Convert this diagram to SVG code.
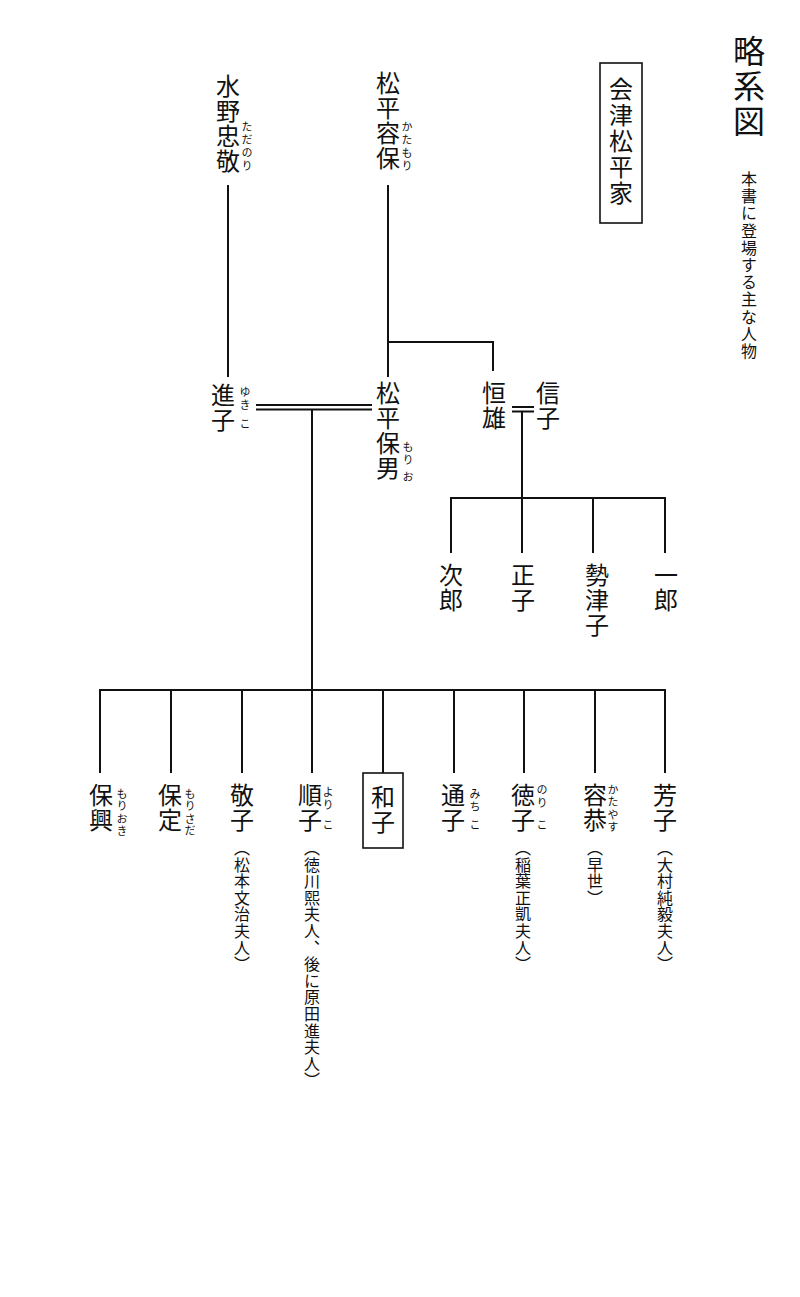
<svg xmlns="http://www.w3.org/2000/svg" width="800" height="1297" viewBox="0 0 800 1297">
<style>
text{font-family:"Noto Sans CJK JP","Noto Sans CJK SC",sans-serif;fill:#111;writing-mode:vertical-rl;text-orientation:upright}
.n{font-size:24px;letter-spacing:1px}
.f{font-size:11px;letter-spacing:2px}
.p{font-size:16px}
.t{font-size:32px;letter-spacing:3px}
.s{font-size:16px;letter-spacing:1.2px}
.ln{fill:none;stroke:#111;stroke-width:2}
.box{fill:none;stroke:#111;stroke-width:1.6}
</style>
<rect width="800" height="1297" fill="#fff"/>
<g id="title"><text class="t" x="749" y="35">略系図</text></g>
<g id="subtitle"><text class="s" x="749" y="171">本書に登場する主な人物</text></g>
<g id="house"><rect class="box" x="600" y="63" width="42" height="160"/><text class="n" x="621" y="77" style="letter-spacing:2px">会津松平家</text></g>
<g id="connectors">
<path class="ln" d="M228 185V377"/>
<path class="ln" d="M388 185V377M388 342H493V371"/>
<path class="ln" d="M256 405H372M256 409.5H372"/>
<path class="ln" d="M312 409.5V690"/>
<path class="ln" d="M512 407H534M512 411.5H534"/>
<path class="ln" d="M522 411.5V553"/>
<path class="ln" d="M451 553V498H665V553M593 498V553"/>
<path class="ln" d="M100 773V690H665V773M171 690V773M242 690V773M312 690V773M383 690V773M454 690V773M524 690V773M595 690V773"/>
</g>
<g id="mizuno"><text class="n" x="228" y="74">水野忠敬</text><text class="f" x="247" y="121">ただのり</text></g>
<g id="katamori"><text class="n" x="388" y="71">松平容保</text><text class="f" x="407" y="121">かたもり</text></g>
<g id="yukiko"><text class="n" x="223" y="383">進子</text><text class="f" x="245" y="386">ゆき</text><text class="f" x="245" y="418">こ</text></g>
<g id="morio"><text class="n" x="388" y="381">松平保男</text><text class="f" x="408" y="441">もり</text><text class="f" x="408" y="471">お</text></g>
<g id="tsuneo"><text class="n" x="494" y="381">恒雄</text></g>
<g id="nobuko"><text class="n" x="548" y="381">信子</text></g>
<g id="jiro"><text class="n" x="451" y="563">次郎</text></g>
<g id="masako"><text class="n" x="523" y="563">正子</text></g>
<g id="setsuko"><text class="n" x="597" y="563">勢津子</text></g>
<g id="ichiro"><text class="n" x="666" y="563">一郎</text></g>
<g id="moriki"><text class="n" x="101" y="783">保興</text><text class="f" x="122" y="788" style="letter-spacing:1.5px">もりおき</text></g>
<g id="morisada"><text class="n" x="170" y="783">保定</text><text class="f" x="190" y="788" style="letter-spacing:1.5px">もりさだ</text></g>
<g id="keiko"><text class="n" x="242" y="783">敬子</text><text class="p" x="242" y="840 856.6 873.2 889.8 906.4 923 939.6">（松本文治夫人）</text></g>
<g id="yoriko"><text class="n" x="310" y="783">順子</text><text class="f" x="328" y="786">より</text><text class="f" x="328" y="819">こ</text><text class="p" x="312" y="840 856.6 873.2 889.8 906.4 923 939.6 956.2 972.8 989.4 1006 1022.6 1039.2 1055.8 1072.4">（徳川熙夫人、後に原田進夫人）</text></g>
<g id="kazuko"><rect class="box" x="363" y="773" width="40" height="75"/><text class="n" x="383" y="785">和子</text></g>
<g id="michiko"><text class="n" x="453" y="783">通子</text><text class="f" x="475" y="788">みち</text><text class="f" x="475" y="819">こ</text></g>
<g id="noriko"><text class="n" x="523" y="783">徳子</text><text class="f" x="542" y="784">のり</text><text class="f" x="542" y="819">こ</text><text class="p" x="523" y="840 856.6 873.2 889.8 906.4 923 939.6">（稲葉正凱夫人）</text></g>
<g id="katayasu"><text class="n" x="595" y="783">容恭</text><text class="f" x="613" y="784" style="letter-spacing:1.5px">かたやす</text><text class="p" x="595" y="840 856.6 873.2 889.8">（早世）</text></g>
<g id="yoshiko"><text class="n" x="665" y="783">芳子</text><text class="p" x="665" y="840 856.6 873.2 889.8 906.4 923 939.6">（大村純毅夫人）</text></g>
</svg>
